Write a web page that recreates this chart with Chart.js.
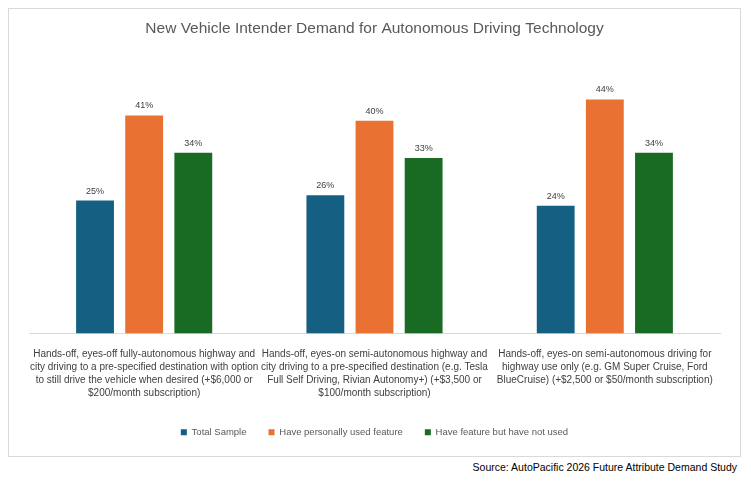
<!DOCTYPE html>
<html>
<head>
<meta charset="utf-8">
<script src="https://cdn.jsdelivr.net/npm/chart.js@4"></script>
<style>
  body { margin: 0; background: #fff; font-family: "Liberation Sans", Arial, sans-serif; }
  #box { position: absolute; left: 8px; top: 8px; width: 731px; height: 447px; border: 1px solid #d9d9d9; }
  #src { position: absolute; right: 14px; top: 461px; font-size: 10.5px; color: #000; }
</style>
</head>
<body>
<div id="box"><canvas id="chart" width="731" height="447"></canvas></div>
<div id="src">Source: AutoPacific 2026 Future Attribute Demand Study</div>
<script>
// 카테고리 (줄바꿈 포함)
const categories = [
  ['Hands-off, eyes-off fully-autonomous highway and', 'city driving to a pre-specified destination with option', 'to still drive the vehicle when desired (+$6,000 or', '$200/month subscription)'],
  ['Hands-off, eyes-on semi-autonomous highway and', 'city driving to a pre-specified destination (e.g. Tesla', 'Full Self Driving, Rivian Autonomy+) (+$3,500 or', '$100/month subscription)'],
  ['Hands-off, eyes-on semi-autonomous driving for', 'highway use only (e.g. GM Super Cruise, Ford', 'BlueCruise) (+$2,500 or $50/month subscription)']
];
const seriesNames = ['Total Sample', 'Have personally used feature', 'Have feature but have not used'];
const totalSample = [25, 26, 24];
const usedFeature = [41, 40, 44];
const notUsed = [34, 33, 34];
const colors = ['#156082', '#E97132', '#196B24'];

// 막대 위 값 표시
const valueLabels = {
  id: 'valueLabels',
  afterDatasetsDraw(chart) {
    const c = chart.ctx;
    c.save();
    c.font = '9px "Liberation Sans", Arial, sans-serif';
    c.fillStyle = '#404040';
    c.textAlign = 'center';
    c.textBaseline = 'bottom';
    chart.data.datasets.forEach((ds, i) => {
      chart.getDatasetMeta(i).data.forEach((bar, j) => {
        c.fillText(ds.data[j] + '%', bar.x, bar.y - 5);
      });
    });
    c.restore();
  }
};

new Chart(document.getElementById('chart'), {
  type: 'bar',
  data: {
    labels: categories,
    datasets: [
      { label: seriesNames[0], data: totalSample, backgroundColor: colors[0] },
      { label: seriesNames[1], data: usedFeature, backgroundColor: colors[1] },
      { label: seriesNames[2], data: notUsed, backgroundColor: colors[2] }
    ]
  },
  options: {
    responsive: false,
    animation: false,
    layout: { padding: { left: 20, right: 20, top: 0, bottom: 9 } },
    datasets: { bar: { barPercentage: 0.77, categoryPercentage: 0.64 } },
    plugins: {
      title: {
        display: true,
        text: 'New Vehicle Intender Demand for Autonomous Driving Technology',
        color: '#595959',
        font: { size: 15.5, family: '"Liberation Sans", Arial, sans-serif', weight: 'normal' },
        padding: { top: 10, bottom: 30 }
      },
      legend: {
        position: 'bottom',
        labels: {
          boxWidth: 6, boxHeight: 6, padding: 22, color: '#595959',
          font: { size: 9.5, family: '"Liberation Sans", Arial, sans-serif' }
        }
      },
      tooltip: { enabled: false }
    },
    scales: {
      x: {
        grid: { display: false },
        border: { color: '#d9d9d9' },
        ticks: {
          color: '#404040', maxRotation: 0, autoSkip: false, padding: 6,
          font: { size: 10, family: '"Liberation Sans", Arial, sans-serif', lineHeight: 1.3 }
        }
      },
      y: { display: false, min: 0, max: 50 }
    }
  },
  plugins: [valueLabels]
});
</script>
</body>
</html>
